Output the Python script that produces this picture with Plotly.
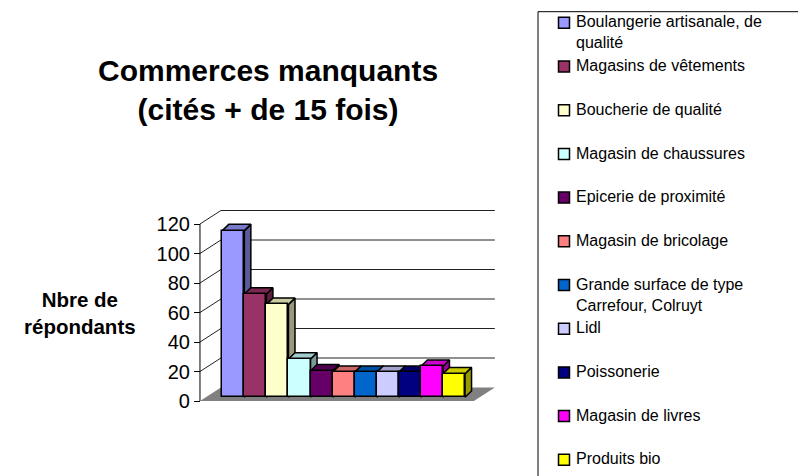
import textwrap
import plotly.graph_objects as go

categories = ["Boulangerie artisanale, de qualité", "Magasins de vêtements",
              "Boucherie de qualité", "Magasin de chaussures", "Epicerie de proximité",
              "Magasin de bricolage", "Grande surface de type Carrefour, Colruyt",
              "Lidl", "Poissonerie", "Magasin de livres", "Produits bio"]
respondents = [113, 70, 63, 26, 18, 17, 17, 17, 17, 21, 16]
y_ticks = [0, 20, 40, 60, 80, 100, 120]
colors = ["#9999FF", "#993366", "#FFFFCC", "#CCFFFF", "#660066", "#FF8080",
          "#0066CC", "#CCCCFF", "#000080", "#FF00FF", "#FFFF00"]

PAGE_PAD = 8                  # body margin of the html page
W, H = 806 - PAGE_PAD, 476 - PAGE_PAD
FONT = "Liberation Sans, Arial, sans-serif"

# pixel geometry of the excel style 3d box (value units / category units)
PX_PER_CAT = 22.07
PX_PER_VAL = 1.475
X0_PX = 233.3 - PAGE_PAD      # centre of first bar
V0_PX = 401 - PAGE_PAD        # value 0 on the front plane
BASE = 2.5                    # bars stand a little behind the front edge
DEPTH_X, DEPTH_V = 0.95, 9.15   # walls / floor depth
BAR_DX, BAR_DV = 0.295, 4.27    # bar depth
X_FRONT = -1.51
X_RIGHT = 10.9

x_range = [-X0_PX / PX_PER_CAT, (W - X0_PX) / PX_PER_CAT]
y_range = [(V0_PX - H) / PX_PER_VAL, V0_PX / PX_PER_VAL]


def fx(px):
    return (px - PAGE_PAD) / W


def fy(py):
    return 1 - (py - PAGE_PAD) / H


def shade(hex_color, f):
    r, g, b = (int(hex_color[i:i + 2], 16) for i in (1, 3, 5))
    return "rgb(%d,%d,%d)" % (r * f, g * f, b * f)


fig = go.Figure()

# side and top faces (drawn under the front faces, which live on an overlay axis)
for i, (v, c) in enumerate(zip(respondents, colors)):
    top = BASE + v
    fig.add_trace(go.Scatter(
        x=[i + .5, i + .5 + BAR_DX, i + .5 + BAR_DX, i + .5, i + .5],
        y=[BASE, BASE + BAR_DV, top + BAR_DV, top, BASE],
        fill="toself", fillcolor=shade(c, 0.6), mode="lines",
        line=dict(color="black", width=1.5), hoverinfo="skip", showlegend=False))
    fig.add_trace(go.Scatter(
        x=[i - .5, i - .5 + BAR_DX, i + .5 + BAR_DX, i + .5, i - .5],
        y=[top, top + BAR_DV, top + BAR_DV, top, top],
        fill="toself", fillcolor=shade(c, 0.8), mode="lines",
        line=dict(color="black", width=1.5), hoverinfo="skip", showlegend=False))

fig.add_trace(go.Bar(
    x=list(range(len(categories))), y=respondents, base=BASE, width=1,
    marker=dict(color=colors, line=dict(color="black", width=1.5)),
    hovertext=categories, xaxis="x2", yaxis="y2", showlegend=False))

shapes = []
# floor
shapes.append(dict(
    type="path", xref="x", yref="y", layer="below",
    path="M %f,0 L %f,0 L %f,%f L %f,%f Z" % (
        X_FRONT, X_RIGHT, X_RIGHT + DEPTH_X, DEPTH_V, X_FRONT + DEPTH_X, DEPTH_V),
    fillcolor="#808080", line=dict(width=0)))
for t in y_ticks[1:]:
    # back wall gridline
    shapes.append(dict(type="line", xref="x", yref="y", layer="below",
                       x0=X_FRONT + DEPTH_X, x1=X_RIGHT + DEPTH_X,
                       y0=t + DEPTH_V, y1=t + DEPTH_V,
                       line=dict(color="#222", width=1)))
    # side wall
    shapes.append(dict(type="line", xref="x", yref="y", layer="below",
                       x0=X_FRONT, x1=X_FRONT + DEPTH_X, y0=t, y1=t + DEPTH_V,
                       line=dict(color="#222", width=1)))
shapes.append(dict(type="line", xref="x", yref="y", layer="below",
                   x0=X_FRONT, x1=X_FRONT, y0=0, y1=y_ticks[-1],
                   line=dict(color="black", width=1)))

# legend drawn by hand to keep excel's spacing
shapes.append(dict(type="rect", xref="paper", yref="paper",
                   x0=fx(538), x1=fx(800), y0=fy(11.7), y1=-0.03,
                   line=dict(color="black", width=1), fillcolor="white", layer="below"))
annotations = []
LEG_FS = 16
for i, (name, c) in enumerate(zip(categories, colors)):
    yc = 22.8 + 43.7 * i
    shapes.append(dict(type="rect", xref="paper", yref="paper",
                       x0=fx(558.5), x1=fx(569.5), y0=fy(yc - 5.5), y1=fy(yc + 5.5),
                       fillcolor=c, line=dict(color="black", width=1.5)))
    annotations.append(dict(
        text="<br>".join(textwrap.wrap(name, 26)), xref="paper", yref="paper",
        x=fx(574), y=fy(yc - 0.65 * LEG_FS - 1), xanchor="left", yanchor="top",
        align="left", showarrow=False, font=dict(family=FONT, size=LEG_FS, color="black")))

annotations.append(dict(
    text="<b>Commerces manquants<br>(cités + de 15 fois)</b>", xref="paper", yref="paper",
    x=fx(268), y=fy(90), xanchor="center", yanchor="middle", showarrow=False,
    font=dict(family=FONT, size=30, color="black")))
annotations.append(dict(
    text="<b>Nbre de<br>répondants</b>", xref="paper", yref="paper",
    x=fx(80), y=fy(313), xanchor="center", yanchor="middle", showarrow=False,
    font=dict(family=FONT, size=20.5, color="black")))

fig.update_layout(
    width=W, height=H, margin=dict(l=0, r=0, t=0, b=0),
    paper_bgcolor="white", plot_bgcolor="white",
    xaxis=dict(range=x_range, domain=[0, 1], visible=False),
    yaxis=dict(range=y_range, domain=[0, 1], anchor="free",
               position=(X0_PX + PX_PER_CAT * X_FRONT) / W,
               tickvals=y_ticks, ticks="outside", ticklen=6, tickcolor="black",
               showgrid=False, zeroline=False, showline=False,
               tickfont=dict(family=FONT, size=20, color="black")),
    xaxis2=dict(range=x_range, overlaying="x", visible=False),
    yaxis2=dict(range=y_range, overlaying="y", visible=False),
    shapes=shapes, annotations=annotations,
    bargap=0,
)

fig.write_html("out.html")
